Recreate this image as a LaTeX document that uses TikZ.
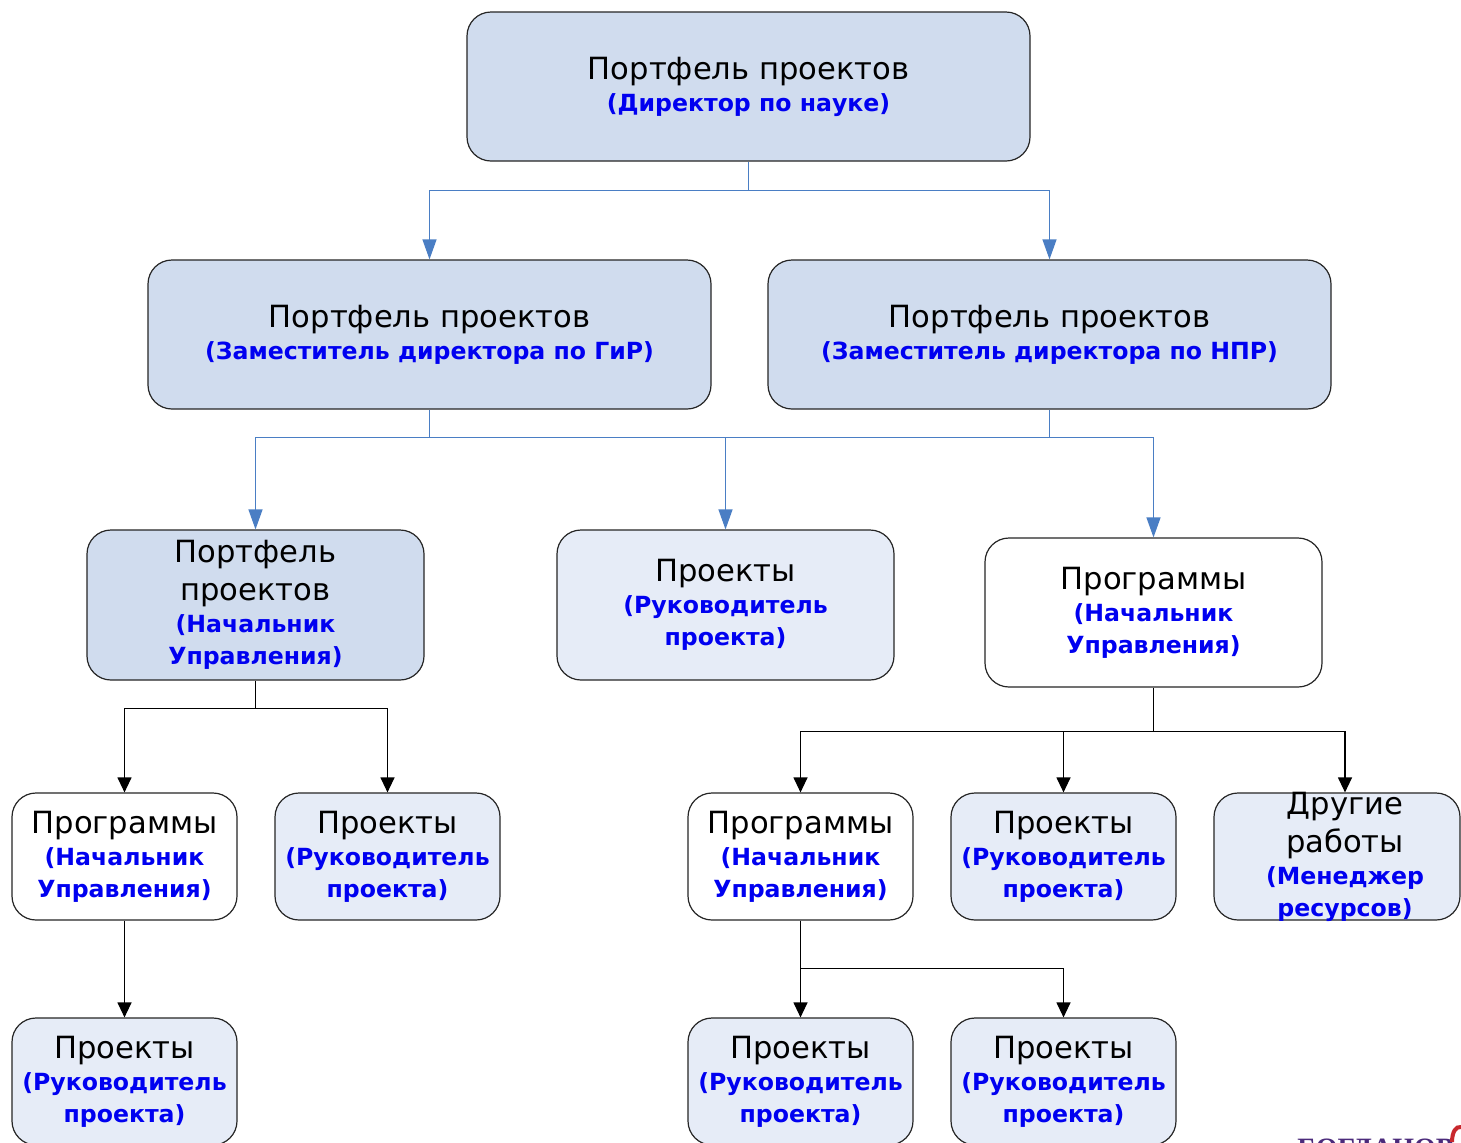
\documentclass[tikz,border=0pt]{standalone}
\usepackage{fontspec}
\setmainfont{DejaVu Sans}
\newfontfamily\logofont{Liberation Serif}
\usetikzlibrary{arrows.meta}
\definecolor{fillA}{HTML}{D0DCEE}
\definecolor{fillB}{HTML}{E6ECF7}
\definecolor{ttblue}{HTML}{0000F0}
\definecolor{lnblue}{HTML}{4A7EC4}
\definecolor{logocol}{HTML}{4B2A7B}
\definecolor{logored}{HTML}{C8282D}
\newcommand{\bltxt}[1]{{\color{ttblue}\bfseries\fontsize{11.8}{15}\selectfont #1}}
\newcommand{\kb}{\\[-2pt]}
\newcommand{\bb}{\\[-2pt]}
\newcommand{\kk}{\\[1pt]}
\begin{document}
\begin{tikzpicture}[x=0.5pt,y=-0.5pt,
  box/.style={draw=black!85, line width=0.6pt, rounded corners=12pt, align=center,
    inner sep=0pt, font=\fontsize{15.3}{18}\selectfont},
  dims/.style 2 args={minimum width=#1*0.5pt, minimum height=#2*0.5pt},
  bline/.style={draw=lnblue, line width=0.6pt},
  barrow/.style={bline, -{Triangle[length=10pt,width=7pt]}},
  kline/.style={draw=black, line width=0.6pt},
  karrow/.style={kline, -{Triangle[length=7.5pt,width=7pt]}}]
\useasboundingbox (0,0) rectangle (1461,1142);
\clip (0,0) rectangle (1461,1142);
\fill[white] (0,0) rectangle (1461,1142);

% level 1
\node[box, fill=fillA, dims={563}{149}] (top) at (748.5,86.5)
  {Портфель проектов\kb\bltxt{(Директор по науке)}};
% level 2
\node[box, fill=fillA, dims={563}{149}] (L2a) at (429.5,334.5)
  {Портфель проектов\kb\bltxt{(Заместитель директора по ГиР)}};
\node[box, fill=fillA, dims={563}{149}] (L2b) at (1049.5,334.5)
  {Портфель проектов\kb\bltxt{(Заместитель директора по НПР)}};
% level 3
\node[box, fill=fillA, dims={337}{150}] (L3a) at (255.5,605)
  {Портфель\kk проектов\kb\bltxt{(Начальник}\bb\bltxt{Управления)}};
\node[box, fill=fillB, dims={337}{150}] (L3b) at (725.5,605)
  {Проекты\kb\bltxt{(Руководитель}\bb\bltxt{проекта)}};
\node[box, fill=white, dims={337}{149}] (L3c) at (1153.5,612.5)
  {Программы\kb\bltxt{(Начальник}\bb\bltxt{Управления)}};
% level 4
\node[box, fill=white, dims={225}{127}] (L4a) at (124.5,856.5)
  {Программы\kb\bltxt{(Начальник}\bb\bltxt{Управления)}};
\node[box, fill=fillB, dims={225}{127}] (L4b) at (387.5,856.5)
  {Проекты\kb\bltxt{(Руководитель}\bb\bltxt{проекта)}};
\node[box, fill=white, dims={225}{127}] (L4c) at (800.5,856.5)
  {Программы\kb\bltxt{(Начальник}\bb\bltxt{Управления)}};
\node[box, fill=fillB, dims={225}{127}] (L4d) at (1063.5,856.5)
  {Проекты\kb\bltxt{(Руководитель}\bb\bltxt{проекта)}};
\node[box, fill=fillB, dims={246}{127}] (L4e) at (1337,856.5) {};
\node[inner sep=0pt, align=center, font=\fontsize{15.3}{18}\selectfont] (L4etext) at (1345,856.5)
  {Другие\kk работы\kb\bltxt{(Менеджер}\bb\bltxt{ресурсов)}};
% level 5
\node[box, fill=fillB, dims={225}{127}] (L5a) at (124.5,1081.5)
  {Проекты\kb\bltxt{(Руководитель}\bb\bltxt{проекта)}};
\node[box, fill=fillB, dims={225}{127}] (L5b) at (800.5,1081.5)
  {Проекты\kb\bltxt{(Руководитель}\bb\bltxt{проекта)}};
\node[box, fill=fillB, dims={225}{127}] (L5c) at (1063.5,1081.5)
  {Проекты\kb\bltxt{(Руководитель}\bb\bltxt{проекта)}};

% connectors level 1 -> 2
\draw[bline] (top.south) -- ++(0,29) coordinate (j1);
\draw[barrow] (j1) -| (L2a.north);
\draw[barrow] (j1) -| (L2b.north);
% level 2 -> 3
\draw[bline] (L2a.south) -- ++(0,28) coordinate (j2);
\draw[bline] (L2b.south) -- ++(0,28) coordinate (j2b);
\draw[bline] (L3a.north |- j2) -- (L3c.north |- j2);
\draw[barrow] (j2) -| (L3a.north);
\draw[barrow] (j2) -| (L3b.north);
\draw[barrow] (j2b) -| (L3c.north);
% level 3 -> 4
\draw[kline] (L3a.south) -- ++(0,28) coordinate (j3);
\draw[karrow] (j3) -| (L4a.north);
\draw[karrow] (j3) -| (L4b.north);
\draw[kline] (L3c.south) -- ++(0,44) coordinate (j4);
\draw[karrow] (j4) -| (L4c.north);
\draw[karrow] (j4) -| (L4d.north);
\draw[karrow] (j4) -| (L4e.north -| L4etext);
% level 4 -> 5
\draw[karrow] (L4a.south) -- (L5a.north);
\draw[kline] (L4c.south) -- ++(0,48) coordinate (j5);
\draw[karrow] (L4c.south) -- (L5b.north);
\draw[karrow] (j5) -| (L5c.north);

% partial logo
\node[anchor=north west, inner sep=0pt, text=logocol, font=\logofont\bfseries\fontsize{14}{16}\selectfont] (logo) at (1297,1139) {БОГДАНОВ};
\draw[logored, line width=2pt] (1452,1142) .. controls (1452,1132) and (1456,1126) .. (1461,1127);
\end{tikzpicture}
\end{document}
